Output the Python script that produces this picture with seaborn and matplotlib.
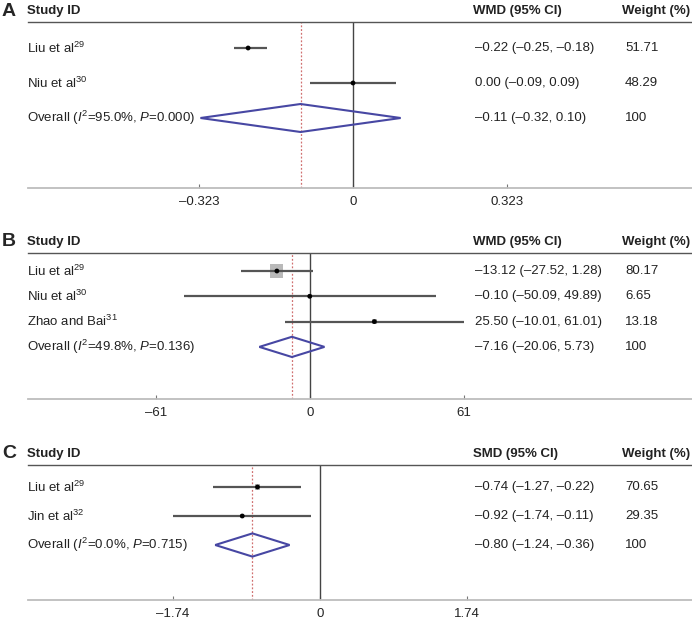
import matplotlib
matplotlib.use('Agg')
import matplotlib.pyplot as plt
import matplotlib.transforms as mtransforms
import seaborn as sns
import pandas as pd

# panel A
a_labels = ['Liu et al$^{29}$', 'Niu et al$^{30}$']
a_est = [-0.22, 0.00]
a_lo = [-0.25, -0.09]
a_hi = [-0.18, 0.09]
a_weight = [51.71, 48.29]
a_overall = [-0.11, -0.32, 0.10]
a_stats = ['95.0%', '0.000']
a_tick = 0.323

# panel B
b_labels = ['Liu et al$^{29}$', 'Niu et al$^{30}$', 'Zhao and Bai$^{31}$']
b_est = [-13.12, -0.10, 25.50]
b_lo = [-27.52, -50.09, -10.01]
b_hi = [1.28, 49.89, 61.01]
b_weight = [80.17, 6.65, 13.18]
b_overall = [-7.16, -20.06, 5.73]
b_stats = ['49.8%', '0.136']
b_tick = 61

# panel C
c_labels = ['Liu et al$^{29}$', 'Jin et al$^{32}$']
c_est = [-0.74, -0.92]
c_lo = [-1.27, -1.74]
c_hi = [-0.22, -0.11]
c_weight = [70.65, 29.35]
c_overall = [-0.80, -1.24, -0.36]
c_stats = ['0.0%', '0.715']
c_tick = 1.74

sns.set_style('white')
plt.rcParams['font.family'] = ['Liberation Sans', 'DejaVu Sans']
plt.rcParams['mathtext.fontset'] = 'custom'
plt.rcParams['mathtext.rm'] = 'Liberation Sans'
plt.rcParams['mathtext.it'] = 'Liberation Sans:italic'

W, H = 692, 622
fig = plt.figure(figsize=(W / 100, H / 100), dpi=100)

DIAMOND = '#4747a3'
FS = 9.5
TXT = '#222222'


def dash(v, fmt='{:.2f}'):
    return fmt.format(v).replace('-', '\u2013')


def draw_panel(letter, measure, labels, est, lo, hi, weight, overall, stats, tick,
               top, bottom, first_row, row_gap, zero_px, tick_px, box_scale):
    ax = fig.add_axes([28 / W, 1 - bottom / H, (W - 28) / W, (bottom - top) / H])
    n = len(labels)
    # map pixel layout onto data units
    per_px = tick / tick_px
    ax.set_xlim((28 - zero_px) * per_px, (W - zero_px) * per_px)
    ax.set_ylim((bottom - first_row) / row_gap, (top - first_row) / row_gap)

    df = pd.DataFrame({'row': range(n), 'est': est, 'lo': lo, 'hi': hi, 'w': weight})
    ax.hlines(df['row'], df['lo'], df['hi'], color='#555555', lw=1.6, zorder=3)
    sns.scatterplot(data=df, x='est', y='row', marker='s', s=df['w'] * box_scale,
                    color='#a8a8a8', edgecolor='none', alpha=0.8, ax=ax, zorder=2, legend=False)
    sns.scatterplot(data=df, x='est', y='row', marker='o', s=12, color='black',
                    edgecolor='none', ax=ax, zorder=4, legend=False)

    o_est, o_lo, o_hi = overall
    ax.fill([o_lo, o_est, o_hi, o_est, o_lo], [n, n - 0.4, n, n + 0.4, n],
            facecolor='none', edgecolor=DIAMOND, lw=1.5, zorder=5)
    ax.axvline(0, color='#444444', lw=1.0, zorder=1)
    ax.axvline(o_est, color='#d07070', lw=0.9, ls=(0, (1.5, 1.5)), zorder=1)

    sns.despine(ax=ax, left=True, right=True, top=False, bottom=False)
    ax.spines['top'].set_color('#555555')
    ax.spines['top'].set_linewidth(1.0)
    ax.spines['bottom'].set_color('#bdbdbd')
    ax.spines['bottom'].set_linewidth(1.3)
    ax.set_yticks([])
    ax.set_xticks([-tick, 0, tick])
    ax.set_xticklabels([dash(-tick, '{:g}'), '0', dash(tick, '{:g}')], fontsize=FS, color=TXT)
    ax.tick_params(axis='x', direction='in', length=3, width=0.8, color='#777777', pad=6,
                   bottom=True)
    ax.set_xlabel('')
    ax.set_ylabel('')

    # text columns
    tr = mtransforms.blended_transform_factory(fig.transFigure, ax.transData)
    for i in range(n):
        ax.text(27 / W, i, labels[i], transform=tr, fontsize=FS, va='center', color=TXT)
        ax.text(475 / W, i, f'{dash(est[i])} ({dash(lo[i])}, {dash(hi[i])})', transform=tr,
                fontsize=FS, va='center', color=TXT)
        ax.text(625 / W, i, f'{weight[i]:.2f}', transform=tr, fontsize=FS, va='center',
                color=TXT)
    ax.text(27 / W, n, f'Overall ($I^2$={stats[0]}, $P$={stats[1]})', transform=tr,
            fontsize=FS, va='center', color=TXT)
    ax.text(475 / W, n, f'{dash(o_est)} ({dash(o_lo)}, {dash(o_hi)})', transform=tr,
            fontsize=FS, va='center', color=TXT)
    ax.text(625 / W, n, '100', transform=tr, fontsize=FS, va='center', color=TXT)

    # header
    hy = 1 - (top - 11) / H
    fig.text(2 / W, hy, letter, fontsize=14, fontweight='bold', va='center')
    fig.text(27 / W, hy, 'Study ID', fontsize=FS, fontweight='bold', va='center', color=TXT)
    fig.text(473 / W, hy, f'{measure} (95% CI)', fontsize=FS, fontweight='bold', va='center',
             color=TXT)
    fig.text(622 / W, hy, 'Weight (%)', fontsize=FS, fontweight='bold', va='center',
             color=TXT)


draw_panel('A', 'WMD', a_labels, a_est, a_lo, a_hi, a_weight, a_overall, a_stats, a_tick,
           top=22, bottom=188, first_row=48, row_gap=35, zero_px=353, tick_px=154, box_scale=0.05)
draw_panel('B', 'WMD', b_labels, b_est, b_lo, b_hi, b_weight, b_overall, b_stats, b_tick,
           top=253, bottom=399, first_row=271, row_gap=25.3, zero_px=310, tick_px=154, box_scale=1.1)
draw_panel('C', 'SMD', c_labels, c_est, c_lo, c_hi, c_weight, c_overall, c_stats, c_tick,
           top=465, bottom=600, first_row=487, row_gap=29, zero_px=320, tick_px=147, box_scale=0.26)

fig.savefig('out.png', dpi=100)
